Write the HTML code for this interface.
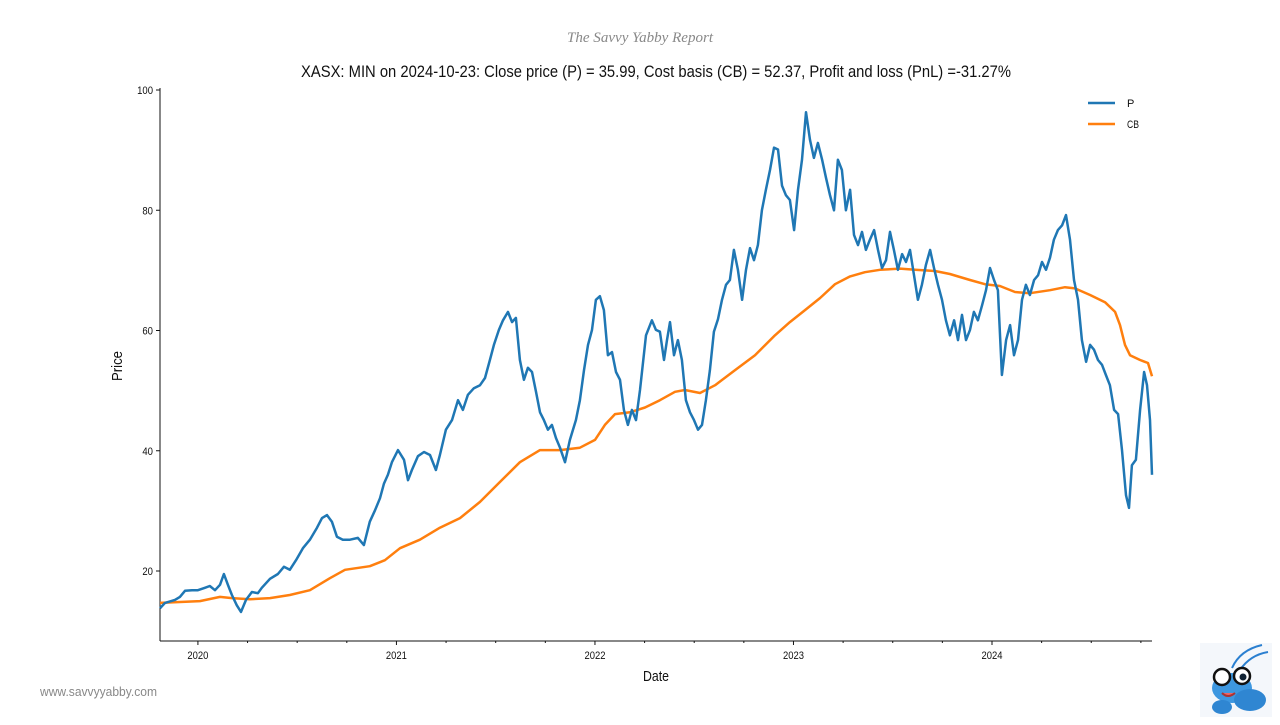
<!DOCTYPE html>
<html><head><meta charset="utf-8">
<style>
html,body{margin:0;padding:0;background:#fff;}
body{width:1280px;height:720px;overflow:hidden;position:relative;font-family:"Liberation Sans Narrow","Liberation Sans",sans-serif;}
svg text{font-family:"Liberation Sans Narrow","Liberation Sans",sans-serif;}
</style></head>
<body>
<svg id="chart" width="1280" height="720" xmlns="http://www.w3.org/2000/svg">
  <text x="640" y="42" text-anchor="middle" font-size="15" font-style="italic" fill="#888" textLength="146" lengthAdjust="spacingAndGlyphs" style="font-family:'Liberation Serif',serif">The Savvy Yabby Report</text>
  <text x="301" y="77" font-size="17" fill="#111" textLength="710" lengthAdjust="spacingAndGlyphs">XASX: MIN on 2024-10-23: Close price (P) = 35.99, Cost basis (CB) = 52.37, Profit and loss (PnL) =-31.27%</text>
  <g id="axes"></g>
  <g id="series"></g>
  <g>
    <line x1="1088" y1="103" x2="1115" y2="103" stroke="#1f77b4" stroke-width="2.5"/>
    <text x="1127" y="107" font-size="11" fill="#111">P</text>
    <line x1="1088" y1="124" x2="1115" y2="124" stroke="#ff7f0e" stroke-width="2.5"/>
    <text x="1127" y="128" font-size="11" fill="#111" textLength="12" lengthAdjust="spacingAndGlyphs">CB</text>
  </g>
  <text x="656" y="681" text-anchor="middle" font-size="15" fill="#111" textLength="26" lengthAdjust="spacingAndGlyphs">Date</text>
  <text transform="translate(122,366) rotate(-90)" text-anchor="middle" font-size="15" fill="#111" textLength="30" lengthAdjust="spacingAndGlyphs">Price</text>
  <text x="40" y="696" font-size="13" fill="#888" textLength="117" lengthAdjust="spacingAndGlyphs">www.savvyyabby.com</text>
  <g>
    <rect x="1200" y="643" width="72" height="74" fill="#f4f7fb"/>
    <path d="M1232 668 Q1240 650 1262 645" stroke="#2a7fd0" stroke-width="2" fill="none"/>
    <path d="M1240 670 Q1250 655 1268 652" stroke="#2a7fd0" stroke-width="2" fill="none"/>
    <ellipse cx="1232" cy="688" rx="20" ry="15" fill="#3d97e0"/>
    <ellipse cx="1250" cy="700" rx="16" ry="11" fill="#2f86d2"/>
    <circle cx="1222" cy="677" r="8" fill="#fff" stroke="#111" stroke-width="2.5"/>
    <circle cx="1242" cy="676" r="8" fill="#fff" stroke="#111" stroke-width="2.5"/>
    <circle cx="1243" cy="677" r="3.5" fill="#123"/>
    <path d="M1222 693 Q1228 699 1235 693" stroke="#a33" stroke-width="2" fill="#e66"/>
    <ellipse cx="1222" cy="707" rx="10" ry="7" fill="#2f86d2"/>
  </g>
</svg>
<script>
const pDates=[2019.809,2019.834,2019.884,2019.909,2019.935,2019.970,2020.000,2020.035,2020.060,2020.086,2020.111,2020.131,2020.151,2020.171,2020.196,2020.217,2020.242,2020.272,2020.302,2020.322,2020.363,2020.403,2020.433,2020.463,2020.494,2020.529,2020.564,2020.600,2020.625,2020.650,2020.675,2020.700,2020.730,2020.766,2020.806,2020.836,2020.866,2020.892,2020.917,2020.937,2020.957,2020.977,2021.008,2021.038,2021.058,2021.078,2021.108,2021.139,2021.169,2021.199,2021.219,2021.249,2021.280,2021.310,2021.335,2021.360,2021.390,2021.421,2021.446,2021.471,2021.491,2021.516,2021.537,2021.562,2021.582,2021.602,2021.622,2021.642,2021.662,2021.683,2021.703,2021.723,2021.743,2021.763,2021.783,2021.804,2021.824,2021.849,2021.874,2021.904,2021.924,2021.945,2021.965,2021.985,2022.005,2022.025,2022.045,2022.065,2022.086,2022.106,2022.126,2022.146,2022.166,2022.186,2022.207,2022.227,2022.257,2022.287,2022.307,2022.327,2022.348,2022.363,2022.378,2022.398,2022.418,2022.438,2022.458,2022.479,2022.499,2022.519,2022.539,2022.559,2022.579,2022.599,2022.620,2022.640,2022.660,2022.680,2022.700,2022.720,2022.741,2022.761,2022.781,2022.801,2022.821,2022.841,2022.861,2022.882,2022.902,2022.922,2022.942,2022.962,2022.982,2023.003,2023.023,2023.043,2023.063,2023.083,2023.103,2023.123,2023.144,2023.164,2023.184,2023.204,2023.224,2023.244,2023.264,2023.285,2023.305,2023.325,2023.345,2023.365,2023.385,2023.406,2023.426,2023.446,2023.466,2023.486,2023.506,2023.526,2023.547,2023.567,2023.587,2023.607,2023.627,2023.647,2023.667,2023.688,2023.708,2023.728,2023.748,2023.768,2023.788,2023.809,2023.829,2023.849,2023.869,2023.889,2023.909,2023.929,2023.950,2023.970,2023.990,2024.010,2024.030,2024.050,2024.071,2024.091,2024.111,2024.131,2024.151,2024.171,2024.191,2024.212,2024.232,2024.252,2024.272,2024.292,2024.312,2024.332,2024.353,2024.373,2024.393,2024.413,2024.433,2024.453,2024.474,2024.494,2024.514,2024.534,2024.554,2024.574,2024.594,2024.615,2024.635,2024.655,2024.675,2024.690,2024.705,2024.725,2024.746,2024.766,2024.781,2024.796,2024.806];
const pValues=[13.8,14.7,15.2,15.7,16.7,16.8,16.8,17.2,17.5,16.8,17.7,19.5,17.7,16.0,14.3,13.2,15.2,16.5,16.3,17.2,18.7,19.5,20.7,20.2,21.8,23.8,25.2,27.2,28.8,29.3,28.2,25.7,25.2,25.2,25.5,24.3,28.2,30.1,32.1,34.5,36.0,38.1,40.1,38.5,35.1,36.8,39.1,39.8,39.3,36.8,39.3,43.5,45.1,48.4,46.8,49.3,50.4,50.9,52.1,55.1,57.6,60.1,61.7,63.1,61.4,62.1,55.1,51.8,53.8,53.1,49.8,46.4,45.1,43.5,44.3,42.1,40.5,38.1,41.8,45.1,48.4,53.4,57.6,60.1,65.1,65.7,63.4,55.9,56.4,53.1,51.8,46.8,44.3,46.8,45.1,50.1,59.2,61.7,60.1,59.8,55.1,58.4,61.4,55.9,58.4,55.1,48.4,46.4,45.1,43.5,44.3,48.4,53.4,59.8,61.9,65.1,67.6,68.4,73.4,70.1,65.1,70.1,73.7,71.7,74.2,80.0,83.4,86.7,90.4,90.1,84.1,82.5,81.7,76.7,83.4,88.4,96.3,91.7,88.7,91.2,88.4,85.4,82.5,80.0,88.4,86.7,80.0,83.4,75.9,74.2,76.4,73.4,75.1,76.7,73.4,70.4,71.7,76.4,73.4,70.1,72.7,71.4,73.4,69.2,65.1,67.6,70.9,73.4,70.4,67.6,65.1,61.7,59.2,61.7,58.4,62.6,58.4,60.1,63.1,61.7,64.2,66.7,70.4,68.4,66.7,52.6,58.4,60.9,55.9,58.4,65.1,67.6,65.9,68.4,69.2,71.4,70.1,72.1,75.1,76.7,77.5,79.2,75.1,68.4,65.1,58.4,54.8,57.6,56.8,55.1,54.3,52.6,50.9,46.8,46.1,40.1,32.6,30.5,37.6,38.5,46.8,53.1,50.9,45.1,36.0];
const cbDates=[2019.809,2020.010,2020.111,2020.171,2020.262,2020.363,2020.463,2020.564,2020.665,2020.741,2020.866,2020.942,2021.018,2021.118,2021.219,2021.320,2021.421,2021.521,2021.622,2021.723,2021.824,2021.924,2022.000,2022.050,2022.101,2022.176,2022.252,2022.327,2022.403,2022.453,2022.529,2022.605,2022.705,2022.806,2022.907,2022.982,2023.058,2023.134,2023.209,2023.285,2023.360,2023.436,2023.537,2023.612,2023.713,2023.788,2023.889,2023.965,2024.040,2024.116,2024.191,2024.292,2024.368,2024.418,2024.494,2024.569,2024.620,2024.645,2024.670,2024.695,2024.746,2024.786,2024.806];
const cbValues=[14.7,15.0,15.7,15.5,15.3,15.5,16.0,16.8,18.8,20.2,20.8,21.8,23.8,25.2,27.2,28.8,31.5,34.8,38.1,40.1,40.1,40.5,41.8,44.3,46.1,46.4,47.2,48.4,49.8,50.1,49.6,50.9,53.4,55.9,59.2,61.4,63.4,65.4,67.7,69.0,69.7,70.1,70.3,70.1,69.9,69.4,68.4,67.7,67.4,66.4,66.2,66.7,67.2,67.0,65.9,64.7,63.1,60.9,57.6,55.9,55.1,54.6,52.4];
const yTicks=[20,40,60,80,100];
const xTickYears=[2020,2021,2022,2023,2024];

const X0=160,X1=1152,T0=2019.809,T1=2024.806;
const Y20=571,PX=6.0125,AXB=641,AXT=88;
function sx(t){return X0+(t-T0)/(T1-T0)*(X1-X0);}
function sy(v){return Y20-(v-20)*PX;}
const NS='http://www.w3.org/2000/svg';
function mk(tag,attrs,parent){const e=document.createElementNS(NS,tag);for(const k in attrs)e.setAttribute(k,attrs[k]);parent.appendChild(e);return e;}
const axes=document.getElementById('axes');
let e;
e=mk('line',{x1:X0,y1:AXT,x2:X0,y2:AXB,stroke:'#111','stroke-width':1},axes);


e=mk('line',{x1:X0,y1:AXB,x2:X1,y2:AXB,stroke:'#111','stroke-width':1},axes);


yTicks.forEach(v=>{
  const y=sy(v);
  let t=mk('line',{x1:X0-4,y1:y,x2:X0,y2:y,stroke:'#111'},axes);
  
  
  let l=mk('text',{x:X0-7,y:y+4,'text-anchor':'end','font-size':11,fill:'#111',textLength:String(v).length*5.3,lengthAdjust:'spacingAndGlyphs'},axes);
  l.textContent=v;
  
  
});
for(let yr=2019;yr<=2024;yr++){for(let m=0;m<12;m+=3){const t=yr+m/12;if(t<T0||t>T1)continue;
  const major=m===0;
  let k=mk('line',{x1:sx(t),y1:AXB,x2:sx(t),y2:AXB+(major?4:2),stroke:'#111'},axes);
  
  
}}
xTickYears.forEach(yr=>{
  let l=mk('text',{x:sx(yr),y:AXB+18,'text-anchor':'middle','font-size':11,fill:'#111',textLength:21,lengthAdjust:'spacingAndGlyphs'},axes);
  l.textContent=yr;
  
  
});
const series=document.getElementById('series');
function path(d,v){return d.map((t,i)=>(i?'L':'M')+sx(t).toFixed(1)+' '+sy(v[i]).toFixed(1)).join(' ');}
e=mk('path',{d:path(cbDates,cbValues),fill:'none',stroke:'#ff7f0e','stroke-width':2.5,'stroke-linejoin':'round'},series);


e=mk('path',{d:path(pDates,pValues),fill:'none',stroke:'#1f77b4','stroke-width':2.5,'stroke-linejoin':'round'},series);


</script>
</body></html>
